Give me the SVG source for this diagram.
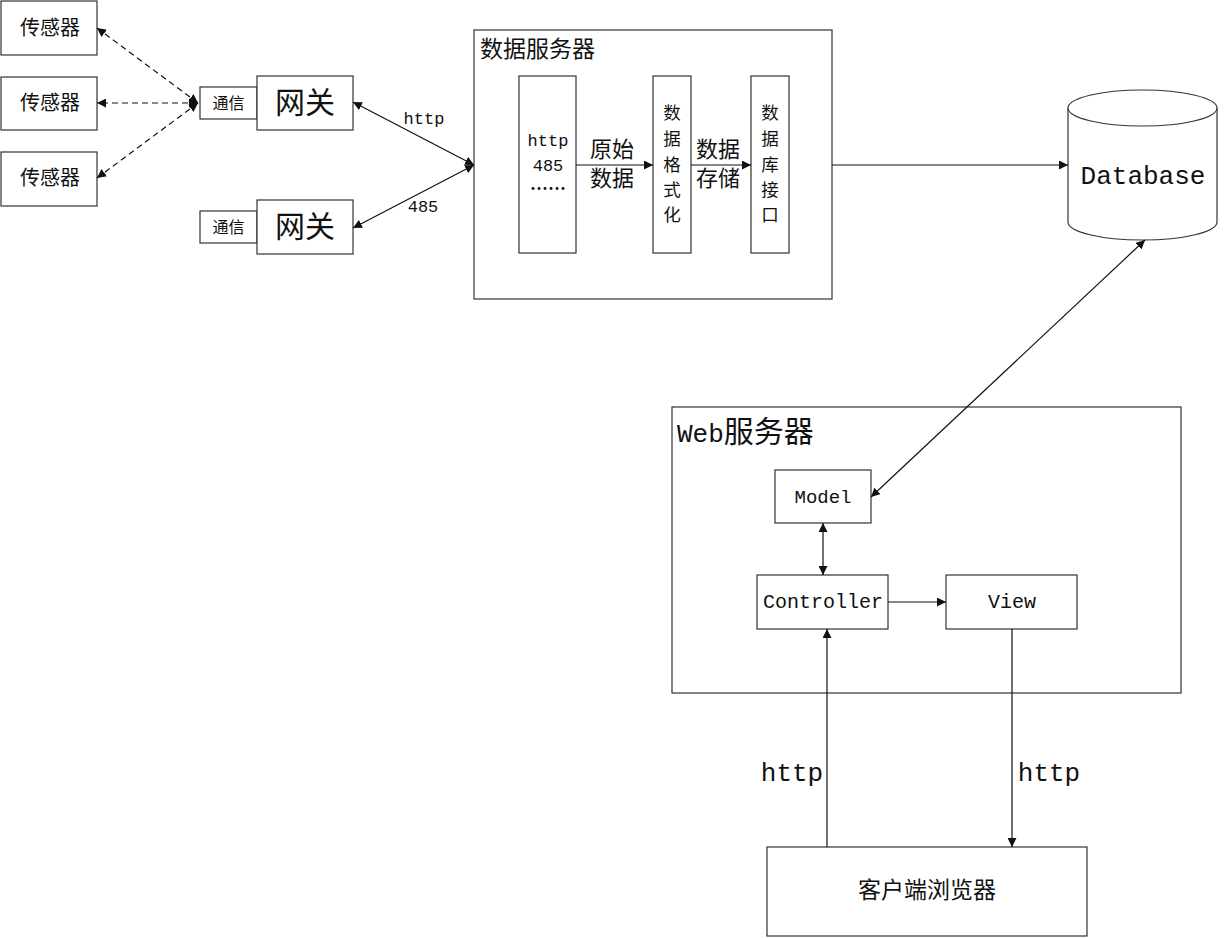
<svg xmlns="http://www.w3.org/2000/svg" width="1225" height="938" viewBox="0 0 1225 938">
<style>
.box{fill:#fff;stroke:#333;stroke-width:1.2}
.cn{font-family:"Noto Sans CJK SC","Noto Sans",sans-serif;fill:#111}
.mono{font-family:"Liberation Mono","DejaVu Sans Mono",monospace;fill:#111}
.ln{fill:none;stroke:#111;stroke-width:1.2}
.dash{stroke-dasharray:6 4}
</style>
<defs>
<marker id="ah" viewBox="0 0 10 10" refX="10" refY="5" markerWidth="9" markerHeight="9" markerUnits="userSpaceOnUse" orient="auto-start-reverse">
<path d="M0,0 L10,5 L0,10 z" fill="#111"/>
</marker>
</defs>
<rect width="1225" height="938" fill="#fff"/>

<g id="sensor1"><rect class="box" x="1" y="1" width="96" height="54"/><text class="cn" x="50" y="35" font-size="20" text-anchor="middle">传感器</text></g>
<g id="sensor2"><rect class="box" x="1" y="77" width="96" height="53"/><text class="cn" x="50" y="110" font-size="20" text-anchor="middle">传感器</text></g>
<g id="sensor3"><rect class="box" x="1" y="152" width="96" height="54"/><text class="cn" x="50" y="185" font-size="20" text-anchor="middle">传感器</text></g>

<g id="gateway1">
<rect class="box" x="200" y="87" width="57" height="32"/><text class="cn" x="228.500" y="109" font-size="16" text-anchor="middle">通信</text>
<rect class="box" x="257" y="76" width="96" height="54"/><text class="cn" x="305" y="113" font-size="30" text-anchor="middle">网关</text>
</g>
<g id="gateway2">
<rect class="box" x="200" y="211" width="57" height="32"/><text class="cn" x="228.500" y="233" font-size="16" text-anchor="middle">通信</text>
<rect class="box" x="257" y="200" width="96" height="54"/><text class="cn" x="305" y="237" font-size="30" text-anchor="middle">网关</text>
</g>

<g id="data-server">
<rect class="box" x="474" y="30" width="358" height="269"/>
<text class="cn" x="480" y="57" font-size="23">数据服务器</text>
<g id="protocols">
<rect class="box" x="519" y="76" width="57" height="177"/>
<text class="mono" x="548" y="146" font-size="17" text-anchor="middle">http</text>
<text class="mono" x="548" y="171" font-size="17" text-anchor="middle">485</text>
<text class="cn" x="548" y="195" font-size="18" text-anchor="middle" font-weight="bold">……</text>
</g>
<g id="format">
<rect class="box" x="653" y="76" width="38" height="177"/>
<text class="cn" font-size="17.500" text-anchor="middle"><tspan x="672" y="119">数</tspan><tspan x="672" y="145">据</tspan><tspan x="672" y="171">格</tspan><tspan x="672" y="196">式</tspan><tspan x="672" y="221">化</tspan></text>
</g>
<g id="db-interface">
<rect class="box" x="751" y="76" width="38" height="177"/>
<text class="cn" font-size="17.500" text-anchor="middle"><tspan x="770" y="119">数</tspan><tspan x="770" y="145">据</tspan><tspan x="770" y="171">库</tspan><tspan x="770" y="196">接</tspan><tspan x="770" y="221">口</tspan></text>
</g>
<text class="cn" font-size="22" text-anchor="middle"><tspan x="612" y="157">原始</tspan><tspan x="612" y="186">数据</tspan></text>
<text class="cn" font-size="22" text-anchor="middle"><tspan x="718" y="157">数据</tspan><tspan x="718" y="186">存储</tspan></text>
</g>

<g id="database">
<path class="box" d="M1068,108 L1068,222 A74.500,18 0 0 0 1217,222 L1217,108"/>
<ellipse class="box" cx="1142.500" cy="108" rx="74.500" ry="18"/>
<text class="mono" x="1143" y="184" font-size="26" text-anchor="middle">Database</text>
</g>

<g id="web-server">
<rect class="box" x="672" y="407" width="509" height="286"/>
<text x="677" y="442"><tspan class="mono" font-size="26">Web</tspan><tspan class="cn" font-size="30">服务器</tspan></text>
</g>
<g id="model"><rect class="box" x="775" y="470" width="96" height="53"/><text class="mono" x="823" y="503" font-size="19" text-anchor="middle">Model</text></g>
<g id="controller"><rect class="box" x="757" y="575" width="131" height="54"/><text class="mono" x="823" y="608" font-size="20" text-anchor="middle">Controller</text></g>
<g id="view"><rect class="box" x="946" y="575" width="131" height="54"/><text class="mono" x="1012" y="608" font-size="20" text-anchor="middle">View</text></g>
<g id="client"><rect class="box" x="767" y="847" width="320" height="89"/><text class="cn" x="927" y="898" font-size="23" text-anchor="middle">客户端浏览器</text></g>

<g id="connectors">
<line class="ln dash" x1="198" y1="103" x2="97" y2="28" marker-start="url(#ah)" marker-end="url(#ah)"/>
<line class="ln dash" x1="198" y1="103" x2="97" y2="103" marker-start="url(#ah)" marker-end="url(#ah)"/>
<line class="ln dash" x1="198" y1="103" x2="97" y2="178" marker-start="url(#ah)" marker-end="url(#ah)"/>
<line class="ln" x1="353" y1="102" x2="474" y2="165" marker-start="url(#ah)" marker-end="url(#ah)"/>
<line class="ln" x1="353" y1="228" x2="474" y2="165" marker-start="url(#ah)" marker-end="url(#ah)"/>
<text class="mono" x="424" y="124" font-size="17" text-anchor="middle">http</text>
<text class="mono" x="423" y="212" font-size="17" text-anchor="middle">485</text>
<line class="ln" x1="576" y1="165" x2="653" y2="165" marker-end="url(#ah)"/>
<line class="ln" x1="691" y1="165" x2="751" y2="165" marker-end="url(#ah)"/>
<line class="ln" x1="832" y1="165" x2="1068" y2="165" marker-end="url(#ah)"/>
<line class="ln" x1="1145" y1="240" x2="871" y2="497" marker-start="url(#ah)" marker-end="url(#ah)"/>
<line class="ln" x1="823" y1="523" x2="823" y2="575" marker-start="url(#ah)" marker-end="url(#ah)"/>
<line class="ln" x1="888" y1="602" x2="946" y2="602" marker-end="url(#ah)"/>
<line class="ln" x1="827" y1="847" x2="827" y2="629" marker-end="url(#ah)"/>
<line class="ln" x1="1012" y1="629" x2="1012" y2="847" marker-end="url(#ah)"/>
<text class="mono" x="792" y="781" font-size="26" text-anchor="middle">http</text>
<text class="mono" x="1049" y="781" font-size="26" text-anchor="middle">http</text>
</g>
</svg>
